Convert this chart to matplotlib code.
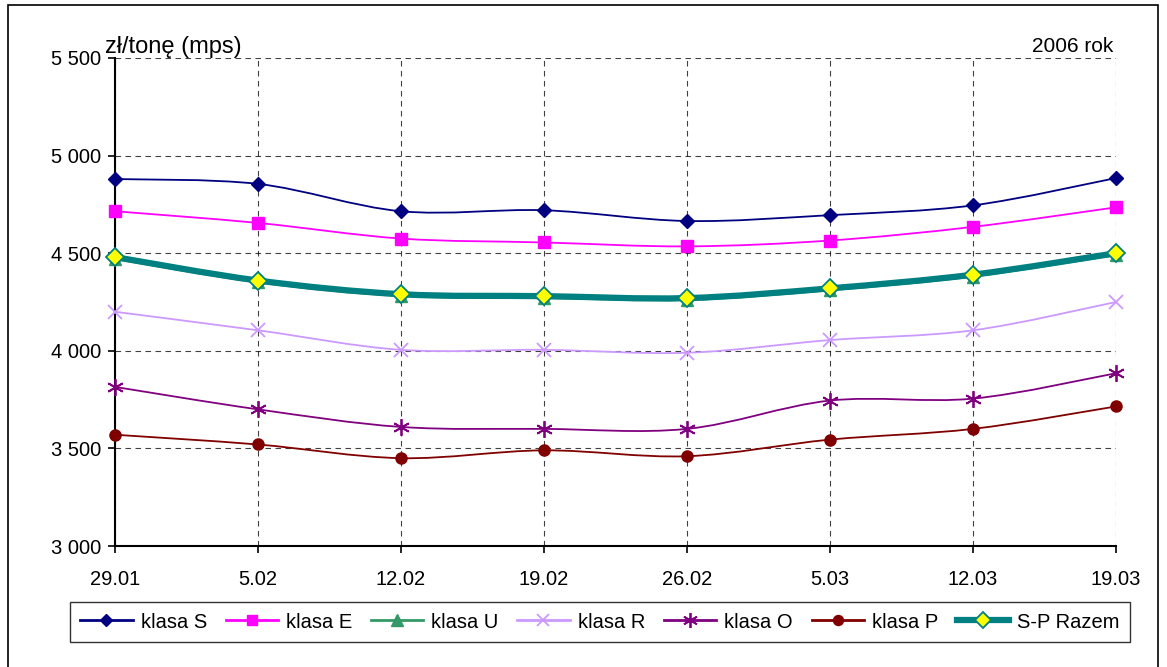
import matplotlib
matplotlib.use("Agg")
import matplotlib.pyplot as plt
import numpy as np
from matplotlib.path import Path
from matplotlib.patches import PathPatch, Rectangle
from matplotlib.lines import Line2D

plt.rcParams['font.family'] = ['Liberation Sans', 'DejaVu Sans']

dates = ["29.01", "5.02", "12.02", "19.02", "26.02", "5.03", "12.03", "19.03"]
klasa_S = [4880, 4855, 4715, 4720, 4665, 4695, 4745, 4885]
klasa_E = [4715, 4655, 4575, 4555, 4535, 4565, 4635, 4735]
klasa_U = [4470, 4350, 4280, 4270, 4260, 4310, 4380, 4490]
klasa_R = [4200, 4105, 4005, 4005, 3990, 4055, 4105, 4250]
klasa_O = [3815, 3700, 3610, 3600, 3600, 3745, 3755, 3885]
klasa_P = [3570, 3520, 3450, 3490, 3460, 3545, 3600, 3715]
razem = [4480, 4360, 4290, 4280, 4270, 4320, 4390, 4500]
yticks = [3000, 3500, 4000, 4500, 5000, 5500]
ytick_labels = ["3 000", "3 500", "4 000", "4 500", "5 000", "5 500"]

series = [
    ("klasa S", klasa_S, dict(color="#000080", marker="D", ms=7, mfc="#000080", mec="#000080", lw=1.3, mew=1)),
    ("klasa E", klasa_E, dict(color="#FF00FF", marker="s", ms=8, mfc="#FF00FF", mec="#FF00FF", lw=1.3, mew=1)),
    ("klasa U", klasa_U, dict(color="#339966", marker="^", ms=9, mfc="#339966", mec="#339966", lw=1.3, mew=1)),
    ("klasa R", klasa_R, dict(color="#CC99FF", marker="x", ms=10, mfc="#CC99FF", mec="#CC99FF", lw=1.3, mew=1.3)),
    ("klasa O", klasa_O, dict(color="#800080", marker=(6, 2, 0), ms=12, mfc="#800080", mec="#800080", lw=1.3, mew=1.3)),
    ("klasa P", klasa_P, dict(color="#800000", marker="o", ms=8, mfc="#800000", mec="#800000", lw=1.3, mew=1)),
    ("S-P Razem", razem, dict(color="#008080", marker="D", ms=9, mfc="#FFFF00", mec="#008080", lw=4.5, mew=1.3)),
]

fig = plt.figure(figsize=(11.67, 6.67), dpi=100)
ax = fig.add_axes([115/1167, 1-546/667, (1116-115)/1167, (546-58)/667])

x = np.arange(len(dates))

def smooth_path(xs, ys):
    pts = np.column_stack([xs, ys]).astype(float)
    n = len(pts)
    verts = [pts[0]]
    codes = [Path.MOVETO]
    for i in range(n - 1):
        p0 = pts[i - 1] if i > 0 else pts[i]
        p1 = pts[i]
        p2 = pts[i + 1]
        p3 = pts[i + 2] if i + 2 < n else pts[i + 1]
        c1 = p1 + (p2 - p0) / 6.0
        c2 = p2 - (p3 - p1) / 6.0
        verts += [c1, c2, p2]
        codes += [Path.CURVE4] * 3
    return Path(verts, codes)

handles = []
for name, vals, st in series:
    patch = PathPatch(smooth_path(x, vals), facecolor="none", edgecolor=st["color"],
                      lw=st["lw"], transform=ax.transData, zorder=3, capstyle="round", joinstyle="round")
    ax.add_patch(patch)
    ax.plot(x, vals, linestyle="none", marker=st["marker"], ms=st["ms"], mfc=st["mfc"],
            mec=st["mec"], mew=st["mew"], zorder=4, clip_on=False)
    handles.append(Line2D([0], [0], color=st["color"], lw=2 if name != "S-P Razem" else 4.5,
                          marker=st["marker"], ms=st["ms"] * 0.9, mfc=st["mfc"], mec=st["mec"], mew=st["mew"],
                          label=name))

ax.set_xlim(0, len(dates) - 1)
ax.set_ylim(3000, 5500)
ax.set_yticks(yticks)
ax.set_yticklabels(ytick_labels)
ax.set_xticks(x)
ax.set_xticklabels(dates)
ax.tick_params(axis="both", labelsize=14.5, direction="out", length=5, width=1.2, color="black")
ax.tick_params(axis="x", pad=12)
ax.tick_params(axis="y", pad=5)
ax.grid(True, color="black", linestyle=(0, (5, 4)), lw=0.8, alpha=0.75)
ax.set_axisbelow(True)
for s in ["top", "right"]:
    ax.spines[s].set_visible(False)
for s in ["left", "bottom"]:
    ax.spines[s].set_linewidth(1.5)

fig.text(105/1167, 1-47/667, "zł/tonę (mps)", fontsize=17, ha="left", va="center")
fig.text(1113/1167, 1-46/667, "2006 rok", fontsize=15, ha="right", va="center")

leg = fig.legend(handles=handles, loc="center", ncol=7, mode="expand",
                 bbox_to_anchor=(60/1167, 1-645/667, 1080/1167, 46/667),
                 fontsize=14.5, frameon=True, fancybox=False, edgecolor="black",
                 handlelength=2.6, handletextpad=0.4, columnspacing=0.8, borderpad=0.5, shadow=False)
leg.get_frame().set_linewidth(1.0)

fig.patches.append(Rectangle((8/1167, -0.01), (1158-8)/1167, 1-5/667 + 0.01, transform=fig.transFigure,
                             fill=False, edgecolor="black", lw=1.2))

fig.savefig("out.png", dpi=100)
